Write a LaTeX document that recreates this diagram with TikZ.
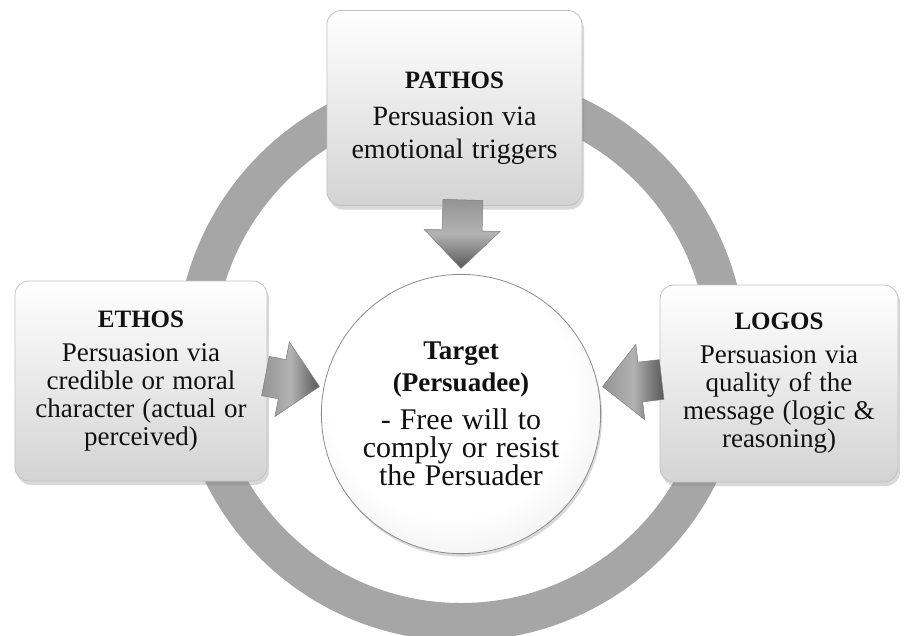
\documentclass[tikz,border=0pt]{standalone}
\usepackage{fontspec}
\setmainfont{Liberation Serif}
\usetikzlibrary{calc,shadows}

\definecolor{ringgray}{HTML}{A6A6A6}
\definecolor{inkdark}{HTML}{111111}

% soft ball-like fill for the central circle
\pgfdeclareradialshading{targetball}{\pgfpoint{-3bp}{6bp}}{%
  color(0bp)=(white); color(22bp)=(white);
  color(36bp)=(black!10); color(45bp)=(black!24); color(50bp)=(black!38)}

% block arrow from a tail point to a tip point
\newcommand\blockarrow[2]{%
  \coordinate (hb) at ($(#2)!38pt!(#1)$);
  \path[arrowfill]
    ($(#1)!20pt!90:(#2)$) -- ($(hb)!20pt!90:(#2)$) --
    ($(hb)!38pt!90:(#2)$) -- (#2) --
    ($(hb)!38pt!-90:(#2)$) -- ($(hb)!20pt!-90:(#2)$) --
    ($(#1)!20pt!-90:(#2)$) -- cycle;}

% text blocks: one paragraph each, so every block keeps its own leading;
% fixed word spaces so centred lines are never stretched
\newcommand\fixedspaces{\spaceskip=0.3em\relax\xspaceskip=0.3em\relax}
\newcommand\headline[1]{{\fontsize{25}{30}\selectfont\bfseries\fixedspaces #1\par}}
\newcommand\bodytext[3]{{\fontsize{#1}{#2}\selectfont\fixedspaces #3\par}}

\begin{document}
\begin{tikzpicture}[x=1pt,y=-1pt,
  box/.style={rounded corners=14pt, draw=black!24, line width=0.8pt,
    top color=white, bottom color=black!17, text=inkdark,
    align=center, inner sep=0pt,
    drop shadow={shadow xshift=2pt, shadow yshift=-4pt, opacity=0.3}},
  targetdisc/.style={circle, draw=black!45, line width=0.8pt,
    shading=targetball, minimum size=268pt, inner sep=0pt,
    text=inkdark, align=center, text width=240pt,
    drop shadow={shadow xshift=1.5pt, shadow yshift=-3pt, opacity=0.3}},
  arrowfill/.style={draw=black!50, line width=0.5pt, shade,
    left color=black!42, right color=black!66, middle color=black!30}]

\useasboundingbox (0,0) rectangle (904,635);
\clip (0,0) rectangle (904,635);

% the surrounding ring
\draw[ringgray, line width=38pt] (461,356) circle[radius=266pt];

% central circle
\node[targetdisc] (target) at (461,414) {%
  {\fontsize{27}{32}\selectfont\bfseries\fixedspaces Target\\(Persuadee)\par}\vspace{10pt}
  \bodytext{30}{28}{- Free will to\\comply or resist\\the Persuader}};

% the three appeals
\node[box, minimum width=255pt, minimum height=195pt, text width=245pt]
  (pathos) at (454.5,108) {%
  \headline{\rule{0pt}{38pt}PATHOS}\vspace{4pt}
  \bodytext{28}{33}{Persuasion via\\emotional triggers}};

\node[box, minimum width=252pt, minimum height=200pt, text width=242pt]
  (ethos) at (141,381) {%
  \headline{ETHOS}\vspace{6pt}
  \bodytext{27}{28}{Persuasion via\\credible or moral\\character (actual or\\perceived)}};

\node[box, minimum width=238pt, minimum height=197pt, text width=230pt]
  (logos) at (779,383.5) {%
  \headline{LOGOS}\vspace{6pt}
  \bodytext{27}{28}{Persuasion via\\quality of the\\message (logic \&\\reasoning)}};

% arrows from each appeal to the target
\coordinate (pathos-out) at ($(pathos.south)+(8.5,-6)$);
\coordinate (pathos-in) at ($(target.center)!1.04!(target.north)$);
\coordinate (ethos-out) at ($(ethos.east)+(-2,-5)$);
\coordinate (ethos-in) at ($(target.center)!1.03!(target.169)$);
\coordinate (logos-out) at ($(logos.west)+(2,-4)$);
\coordinate (logos-in) at ($(target.center)!1.03!(target.11)$);

\begin{scope}[arrowfill/.append style={shading angle=0}]
  \blockarrow{pathos-out}{pathos-in}
\end{scope}
\begin{scope}[arrowfill/.append style={shading angle=90}]
  \blockarrow{ethos-out}{ethos-in}
  \blockarrow{logos-out}{logos-in}
\end{scope}
\end{tikzpicture}
\end{document}
